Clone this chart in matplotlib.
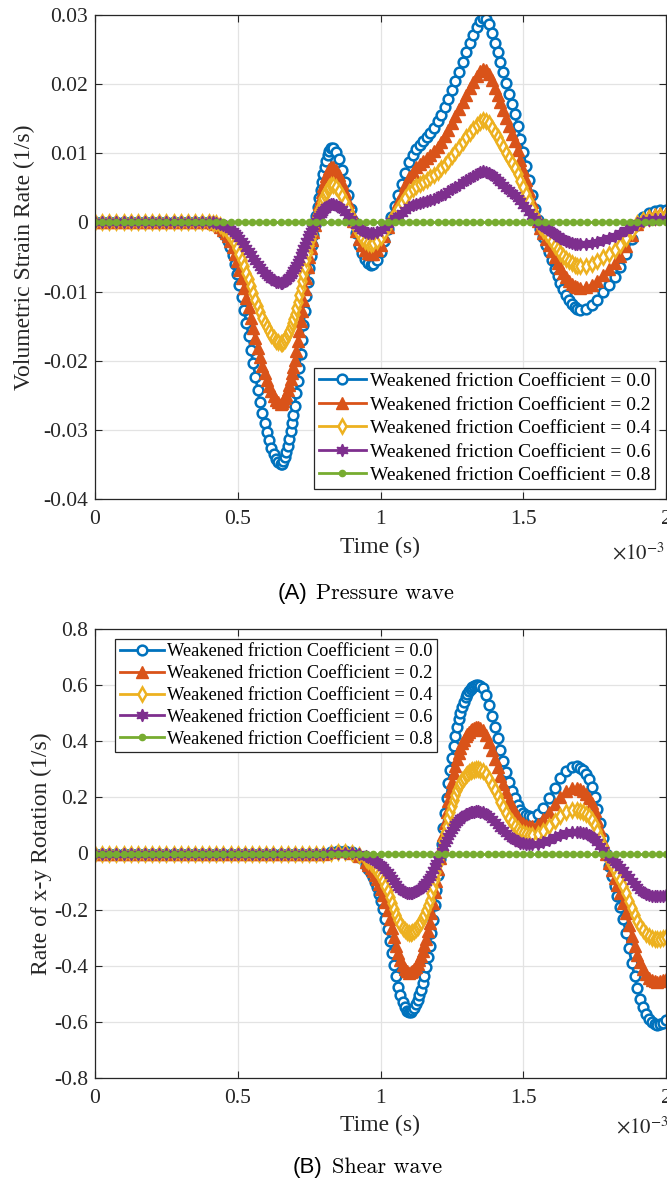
import numpy as np
import matplotlib
matplotlib.use("Agg")
import matplotlib.pyplot as plt
from matplotlib.ticker import FuncFormatter

plt.rcParams['font.family'] = ['Liberation Serif', 'DejaVu Serif']
plt.rcParams['axes.unicode_minus'] = False
plt.rcParams['mathtext.fontset'] = 'stix'

coefficients = ['0.0', '0.2', '0.4', '0.6', '0.8']
legend_labels = ['Weakened friction Coefficient = ' + c for c in coefficients]

# ---------------------------------------------------------------------------
# (A) Pressure wave: volumetric strain rate, sampled at uneven instants
#     (time in 1e-3 s, strain rate in 1e-3 1/s)
# ---------------------------------------------------------------------------
t_vol_ms = np.concatenate([
    np.linspace(0.0, 0.4, 17), np.linspace(0.4125, 0.45, 4),
    np.linspace(0.458, 0.650, 25), np.linspace(0.655, 0.825, 35),
    np.linspace(0.835, 0.975, 15), np.linspace(0.9875, 1.35, 30),
    np.linspace(1.36, 1.70, 35), np.linspace(1.72, 2.0, 15)])

vol_00 = [0, 0, 0, 0, 0, 0, 0, 0, 0, 0, 0, 0, 0, 0, 0, 0, 0,
          -0.05, -0.3, -0.8, -1.5,
          -2.0, -2.7, -3.6, -4.7, -6.0, -7.5, -9.1, -10.8, -12.6, -14.5, -16.4, -18.4, -20.4,
          -22.3, -24.2, -26.0, -27.6, -29.0, -30.3, -31.5, -32.6, -33.5, -34.2, -34.7, -35.0,
          -34.9, -34.5, -33.9, -33.2, -32.3, -31.3, -30.2, -29.0, -27.8, -26.5, -24.7, -22.9,
          -21.0, -19.0, -17.0, -14.9, -12.8, -10.7, -8.6, -6.6, -4.9, -3.3, -1.8, -0.4, 1.0,
          2.3, 3.5, 4.7, 5.9, 7.0, 8.0, 8.9, 9.7, 10.3, 10.7,
          10.7, 10.2, 9.2, 7.6, 5.8, 3.9, 2.0, 0.2, -1.6, -3.2, -4.4, -5.3, -5.9, -6.1, -6.0,
          -5.4, -4.3, -2.7, -0.9, 0.8, 2.4, 3.9, 5.5, 7.2, 8.7, 9.8, 10.6, 11.2, 11.8, 12.4,
          13.0, 13.7, 14.6, 15.6, 16.7, 17.9, 19.2, 20.5, 21.8, 23.2, 24.6, 25.9, 27.1, 28.2, 29.1,
          29.6, 29.4, 28.7, 27.4, 26.0, 24.6, 23.2, 21.7, 20.2, 18.6, 17.1, 15.7, 13.9, 12.1,
          10.2, 8.2, 6.1, 4.0, 2.0, 0.3, -1.0, -2.1, -3.2, -4.3, -5.5, -6.7, -7.8, -8.8, -9.7,
          -10.5, -11.2, -11.8, -12.2, -12.5, -12.6,
          -12.5, -12.0, -11.2, -10.1, -9.0, -7.9, -6.4, -4.6, -2.4, -0.3, 0.8, 1.4, 1.7, 1.8, 1.8]
vol_02 = [0, 0, 0, 0, 0, 0, 0, 0, 0, 0, 0, 0, 0, 0, 0, 0, 0,
          -0.04, -0.23, -0.6, -1.13,
          -1.5, -2.03, -2.7, -3.53, -4.5, -5.63, -6.83, -8.1, -9.45, -10.88, -12.3, -13.8, -15.3,
          -16.73, -18.15, -19.5, -20.7, -21.75, -22.73, -23.63, -24.45, -25.13, -25.65, -26.03, -26.25,
          -26.18, -25.88, -25.43, -24.9, -24.23, -23.48, -22.65, -21.75, -20.85, -19.88, -18.53,
          -17.18, -15.75, -14.25, -12.75, -11.18, -9.6, -8.03, -6.45, -4.95, -3.68, -2.48, -1.35,
          -0.3, 0.75, 1.73, 2.63, 3.53, 4.43, 5.25, 6.0, 6.68, 7.28, 7.73, 8.03,
          8.03, 7.65, 6.9, 5.7, 4.35, 2.93, 1.5, 0.15, -1.2, -2.4, -3.3, -3.98, -4.43, -4.58, -4.5,
          -4.05, -3.23, -2.03, -0.68, 0.6, 1.8, 2.93, 4.13, 5.4, 6.53, 7.35, 7.95, 8.4, 8.85, 9.3,
          9.75, 10.28, 10.95, 11.7, 12.53, 13.43, 14.4, 15.38, 16.35, 17.4, 18.45, 19.43, 20.33,
          21.15, 21.83,
          22.2, 22.05, 21.53, 20.55, 19.5, 18.45, 17.4, 16.28, 15.15, 13.95, 12.83, 11.78, 10.43,
          9.08, 7.65, 6.15, 4.58, 3.0, 1.5, 0.23, -0.75, -1.58, -2.4, -3.23, -4.13, -5.03, -5.85,
          -6.6, -7.28, -7.88, -8.4, -8.85, -9.15, -9.38, -9.45,
          -9.38, -9.0, -8.4, -7.58, -6.75, -5.93, -4.8, -3.45, -1.8, -0.23, 0.6, 1.05, 1.28, 1.35, 1.35]
vol_04 = [0, 0, 0, 0, 0, 0, 0, 0, 0, 0, 0, 0, 0, 0, 0, 0, 0,
          -0.03, -0.15, -0.4, -0.75,
          -1.0, -1.35, -1.8, -2.35, -3.0, -3.75, -4.55, -5.4, -6.3, -7.25, -8.2, -9.2, -10.2,
          -11.15, -12.1, -13.0, -13.8, -14.5, -15.15, -15.75, -16.3, -16.75, -17.1, -17.35, -17.5,
          -17.45, -17.25, -16.95, -16.6, -16.15, -15.65, -15.1, -14.5, -13.9, -13.25, -12.35,
          -11.45, -10.5, -9.5, -8.5, -7.45, -6.4, -5.35, -4.3, -3.3, -2.45, -1.65, -0.9, -0.2,
          0.5, 1.15, 1.75, 2.35, 2.95, 3.5, 4.0, 4.45, 4.85, 5.15, 5.35,
          5.35, 5.1, 4.6, 3.8, 2.9, 1.95, 1.0, 0.1, -0.8, -1.6, -2.2, -2.65, -2.95, -3.05, -3.0,
          -2.7, -2.15, -1.35, -0.45, 0.4, 1.2, 1.95, 2.75, 3.6, 4.35, 4.9, 5.3, 5.6, 5.9, 6.2,
          6.5, 6.85, 7.3, 7.8, 8.35, 8.95, 9.6, 10.25, 10.9, 11.6, 12.3, 12.95, 13.55, 14.1, 14.55,
          14.8, 14.7, 14.35, 13.7, 13.0, 12.3, 11.6, 10.85, 10.1, 9.3, 8.55, 7.85, 6.95, 6.05,
          5.1, 4.1, 3.05, 2.0, 1.0, 0.15, -0.5, -1.05, -1.6, -2.15, -2.75, -3.35, -3.9, -4.4,
          -4.85, -5.25, -5.6, -5.9, -6.1, -6.25, -6.3,
          -6.25, -6.0, -5.6, -5.05, -4.5, -3.95, -3.2, -2.3, -1.2, -0.15, 0.4, 0.7, 0.85, 0.9, 0.9]
vol_06 = [0, 0, 0, 0, 0, 0, 0, 0, 0, 0, 0, 0, 0, 0, 0, 0, 0,
          -0.01, -0.08, -0.2, -0.38,
          -0.5, -0.68, -0.9, -1.18, -1.5, -1.88, -2.28, -2.7, -3.15, -3.63, -4.1, -4.6, -5.1,
          -5.58, -6.05, -6.5, -6.9, -7.25, -7.58, -7.88, -8.15, -8.38, -8.55, -8.68, -8.75,
          -8.73, -8.63, -8.48, -8.3, -8.08, -7.83, -7.55, -7.25, -6.95, -6.63, -6.18, -5.73,
          -5.25, -4.75, -4.25, -3.73, -3.2, -2.68, -2.15, -1.65, -1.23, -0.83, -0.45, -0.1,
          0.25, 0.58, 0.88, 1.18, 1.48, 1.75, 2.0, 2.23, 2.43, 2.58, 2.68,
          2.68, 2.55, 2.3, 1.9, 1.45, 0.98, 0.5, 0.05, -0.4, -0.8, -1.1, -1.33, -1.48, -1.53, -1.5,
          -1.35, -1.08, -0.68, -0.23, 0.2, 0.6, 0.98, 1.38, 1.8, 2.18, 2.45, 2.65, 2.8, 2.95, 3.1,
          3.25, 3.43, 3.65, 3.9, 4.18, 4.48, 4.8, 5.13, 5.45, 5.8, 6.15, 6.48, 6.78, 7.05, 7.28,
          7.4, 7.35, 7.18, 6.85, 6.5, 6.15, 5.8, 5.43, 5.05, 4.65, 4.28, 3.93, 3.48, 3.03,
          2.55, 2.05, 1.53, 1.0, 0.5, 0.08, -0.25, -0.53, -0.8, -1.08, -1.38, -1.68, -1.95, -2.2,
          -2.43, -2.63, -2.8, -2.95, -3.05, -3.13, -3.15,
          -3.13, -3.0, -2.8, -2.53, -2.25, -1.98, -1.6, -1.15, -0.6, -0.08, 0.2, 0.35, 0.43, 0.45, 0.45]

# the 0.8 case stays at rest; it is logged on a regular 0.025e-3 s grid
t_flat_ms = np.linspace(0.0, 2.0, 81)
vol_08 = [0, 0, 0, 0, 0, 0, 0, 0, 0, 0, 0, 0, 0, 0, 0, 0, 0, 0, 0, 0,
          0, 0, 0, 0, 0, 0, 0, 0, 0, 0, 0, 0, 0, 0, 0, 0, 0, 0, 0, 0,
          0, 0, 0, 0, 0, 0, 0, 0, 0, 0, 0, 0, 0, 0, 0, 0, 0, 0, 0, 0,
          0, 0, 0, 0, 0, 0, 0, 0, 0, 0, 0, 0, 0, 0, 0, 0, 0, 0, 0, 0, 0]

# ---------------------------------------------------------------------------
# (B) Shear wave: rate of x-y rotation (1/s), time in 1e-3 s
# ---------------------------------------------------------------------------
t_rot_ms = np.concatenate([
    np.linspace(0.0, 0.8, 33), np.linspace(0.825, 0.95, 6),
    np.linspace(0.9575, 1.1, 20), np.linspace(1.106, 1.34, 40),
    np.linspace(1.35, 1.53, 19), np.linspace(1.55, 1.69, 8),
    np.linspace(1.70, 1.97, 28), np.linspace(1.98, 2.0, 3)])

rot_00 = [0, 0, 0, 0, 0, 0, 0, 0, 0, 0, 0, 0, 0, 0, 0, 0, 0, 0, 0, 0,
          0, 0, 0, 0, 0, 0, 0, 0, 0, 0, 0, 0, 0,
          0.006, 0.010, 0.010, 0.004, -0.012, -0.042,
          -0.054, -0.068, -0.084, -0.101, -0.120, -0.143, -0.169, -0.198, -0.232, -0.270,
          -0.312, -0.355, -0.398, -0.438, -0.474, -0.505, -0.530, -0.548, -0.560, -0.566,
          -0.564, -0.559, -0.550, -0.537, -0.523, -0.506, -0.486, -0.463, -0.436, -0.405,
          -0.370, -0.330, -0.285, -0.236, -0.184, -0.130, -0.075, -0.020, 0.035, 0.090,
          0.145, 0.198, 0.250, 0.298, 0.342, 0.382, 0.418, 0.450, 0.478, 0.502,
          0.523, 0.541, 0.556, 0.568, 0.578, 0.586, 0.592, 0.597, 0.600, 0.601,
          0.598, 0.588, 0.565, 0.530, 0.490, 0.450, 0.410, 0.370, 0.330, 0.292, 0.256, 0.224,
          0.196, 0.173, 0.156, 0.144, 0.136, 0.132, 0.131,
          0.139, 0.162, 0.196, 0.235, 0.270, 0.295, 0.309, 0.311,
          0.306, 0.298, 0.285, 0.265, 0.238, 0.203, 0.160, 0.110, 0.055, -0.003, -0.045, -0.080,
          -0.115, -0.150, -0.190, -0.235, -0.285, -0.338, -0.390, -0.438, -0.480, -0.517, -0.548,
          -0.572, -0.590, -0.602, -0.608, -0.610,
          -0.608, -0.603, -0.595]
rot_02 = [0, 0, 0, 0, 0, 0, 0, 0, 0, 0, 0, 0, 0, 0, 0, 0, 0, 0, 0, 0,
          0, 0, 0, 0, 0, 0, 0, 0, 0, 0, 0, 0, 0,
          0.0045, 0.0075, 0.0075, 0.003, -0.009, -0.0315,
          -0.0405, -0.051, -0.063, -0.0758, -0.09, -0.1073, -0.1268, -0.1485, -0.174, -0.2025,
          -0.234, -0.2663, -0.2985, -0.3285, -0.3555, -0.3788, -0.3975, -0.411, -0.42, -0.4245,
          -0.423, -0.4193, -0.4125, -0.4028, -0.3923, -0.3795, -0.3645, -0.3473, -0.327, -0.3038,
          -0.2775, -0.2475, -0.2138, -0.177, -0.138, -0.0975, -0.0563, -0.015, 0.0263, 0.0675,
          0.1088, 0.1485, 0.1875, 0.2235, 0.2565, 0.2865, 0.3135, 0.3375, 0.3585, 0.3765,
          0.3923, 0.4058, 0.417, 0.426, 0.4335, 0.4395, 0.444, 0.4478, 0.45, 0.4508,
          0.4485, 0.441, 0.4238, 0.3975, 0.3675, 0.3375, 0.3075, 0.2775, 0.2475, 0.219, 0.192,
          0.168, 0.147, 0.1298, 0.117, 0.108, 0.102, 0.099, 0.0983,
          0.1043, 0.1215, 0.147, 0.1763, 0.2025, 0.2213, 0.2318, 0.2333,
          0.2295, 0.2235, 0.2138, 0.1988, 0.1785, 0.1523, 0.12, 0.0825, 0.0413, -0.0023, -0.0338,
          -0.06, -0.0863, -0.1125, -0.1425, -0.1763, -0.2138, -0.2535, -0.2925, -0.3285, -0.36,
          -0.3878, -0.411, -0.429, -0.4425, -0.4515, -0.456, -0.4575,
          -0.456, -0.4523, -0.4463]
rot_04 = [0, 0, 0, 0, 0, 0, 0, 0, 0, 0, 0, 0, 0, 0, 0, 0, 0, 0, 0, 0,
          0, 0, 0, 0, 0, 0, 0, 0, 0, 0, 0, 0, 0,
          0.003, 0.005, 0.005, 0.002, -0.006, -0.021,
          -0.027, -0.034, -0.042, -0.0505, -0.06, -0.0715, -0.0845, -0.099, -0.116, -0.135,
          -0.156, -0.1775, -0.199, -0.219, -0.237, -0.2525, -0.265, -0.274, -0.28, -0.283,
          -0.282, -0.2795, -0.275, -0.2685, -0.2615, -0.253, -0.243, -0.2315, -0.218, -0.2025,
          -0.185, -0.165, -0.1425, -0.118, -0.092, -0.065, -0.0375, -0.01, 0.0175, 0.045,
          0.0725, 0.099, 0.125, 0.149, 0.171, 0.191, 0.209, 0.225, 0.239, 0.251,
          0.2615, 0.2705, 0.278, 0.284, 0.289, 0.293, 0.296, 0.2985, 0.30, 0.3005,
          0.299, 0.294, 0.2825, 0.265, 0.245, 0.225, 0.205, 0.185, 0.165, 0.146, 0.128,
          0.112, 0.098, 0.0865, 0.078, 0.072, 0.068, 0.066, 0.0655,
          0.0695, 0.081, 0.098, 0.1175, 0.135, 0.1475, 0.1545, 0.1555,
          0.153, 0.149, 0.1425, 0.1325, 0.119, 0.1015, 0.08, 0.055, 0.0275, -0.0015, -0.0225,
          -0.04, -0.0575, -0.075, -0.095, -0.1175, -0.1425, -0.169, -0.195, -0.219, -0.24,
          -0.2585, -0.274, -0.286, -0.295, -0.301, -0.304, -0.305,
          -0.304, -0.3015, -0.2975]
rot_06 = [0, 0, 0, 0, 0, 0, 0, 0, 0, 0, 0, 0, 0, 0, 0, 0, 0, 0, 0, 0,
          0, 0, 0, 0, 0, 0, 0, 0, 0, 0, 0, 0, 0,
          0.0015, 0.0025, 0.0025, 0.001, -0.003, -0.0105,
          -0.0135, -0.017, -0.021, -0.0253, -0.03, -0.0358, -0.0423, -0.0495, -0.058, -0.0675,
          -0.078, -0.0888, -0.0995, -0.1095, -0.1185, -0.1263, -0.1325, -0.137, -0.14, -0.1415,
          -0.141, -0.1398, -0.1375, -0.1343, -0.1308, -0.1265, -0.1215, -0.1158, -0.109, -0.1013,
          -0.0925, -0.0825, -0.0713, -0.059, -0.046, -0.0325, -0.0188, -0.005, 0.0088, 0.0225,
          0.0363, 0.0495, 0.0625, 0.0745, 0.0855, 0.0955, 0.1045, 0.1125, 0.1195, 0.1255,
          0.1308, 0.1353, 0.139, 0.142, 0.1445, 0.1465, 0.148, 0.1493, 0.15, 0.1503,
          0.1495, 0.147, 0.1413, 0.1325, 0.1225, 0.1125, 0.1025, 0.0925, 0.0825, 0.073, 0.064,
          0.056, 0.049, 0.0433, 0.039, 0.036, 0.034, 0.033, 0.0328,
          0.0348, 0.0405, 0.049, 0.0588, 0.0675, 0.0738, 0.0773, 0.0778,
          0.0765, 0.0745, 0.0713, 0.0663, 0.0595, 0.0508, 0.04, 0.0275, 0.0138, -0.0008, -0.0113,
          -0.02, -0.0288, -0.0375, -0.0475, -0.0588, -0.0713, -0.0845, -0.0975, -0.1095, -0.12,
          -0.1293, -0.137, -0.143, -0.1475, -0.1505, -0.152, -0.1525,
          -0.152, -0.1508, -0.1488]
rot_08 = [0, 0, 0, 0, 0, 0, 0, 0, 0, 0, 0, 0, 0, 0, 0, 0, 0, 0, 0, 0,
          0, 0, 0, 0, 0, 0, 0, 0, 0, 0, 0, 0, 0, 0, 0, 0, 0, 0, 0, 0,
          0, 0, 0, 0, 0, 0, 0, 0, 0, 0, 0, 0, 0, 0, 0, 0, 0, 0, 0, 0,
          0, 0, 0, 0, 0, 0, 0, 0, 0, 0, 0, 0, 0, 0, 0, 0, 0, 0, 0, 0, 0]

time_ticks = [0, 0.5e-3, 1.0e-3, 1.5e-3, 2.0e-3]
vol_ticks = [-0.04, -0.03, -0.02, -0.01, 0, 0.01, 0.02, 0.03]
rot_ticks = [-0.8, -0.6, -0.4, -0.2, 0, 0.2, 0.4, 0.6, 0.8]

colors = ['#0072BD', '#D95319', '#EDB120', '#7E2F8E', '#77AC30']
styles = [
    dict(marker='o', ms=7, mew=1.8, mfc='white'),
    dict(marker='^', ms=8, mew=1.0),
    dict(marker='d', ms=7.5, mew=1.8, mfc='white'),
    dict(marker=(6, 1, 0), ms=9, mew=1.0),
    dict(marker='o', ms=4.5, mew=1.0),
]

W, H = 667, 1182
fig = plt.figure(figsize=(W / 100, H / 100), dpi=100)


def px_axes(left, top, right, bottom):
    return fig.add_axes([left / W, 1 - bottom / H, (right - left) / W, (bottom - top) / H])


def style_axes(ax, yticks, ylim):
    ax.set_xlim(0, 2.0e-3)
    ax.set_ylim(*ylim)
    ax.set_xticks(time_ticks)
    ax.set_yticks(yticks)
    ax.xaxis.set_major_formatter(FuncFormatter(lambda v, _: f'{v * 1e3:g}'))
    ax.yaxis.set_major_formatter(FuncFormatter(lambda v, _: f'{round(v, 4):g}'))
    ax.grid(True, color='#e3e3e3', linewidth=0.9)
    ax.set_axisbelow(True)
    ax.tick_params(direction='in', top=True, right=True, length=5, width=0.8,
                   labelsize=15.5, colors='#262626')
    ax.tick_params(axis='x', pad=8)
    ax.tick_params(axis='y', pad=5)
    for s in ax.spines.values():
        s.set_color('#262626')
        s.set_linewidth(0.9)


def draw_series(ax, times, series):
    for t, y, c, st, lab in zip(times, series, colors, styles, legend_labels):
        ax.plot(t, y, color=c, lw=2, mec=c, mfc=st.get('mfc', c),
                marker=st['marker'], ms=st['ms'], mew=st['mew'], label=lab)


# (A) pressure wave
ax1 = px_axes(95, 15, 666, 499)
t_vol = t_vol_ms * 1e-3
vol_series = [np.asarray(v) * 1e-3 for v in (vol_00, vol_02, vol_04, vol_06, vol_08)]
draw_series(ax1, [t_vol, t_vol, t_vol, t_vol, t_flat_ms * 1e-3], vol_series)
style_axes(ax1, vol_ticks, (-0.04, 0.03))
ax1.set_xlabel('Time (s)', fontsize=17, color='#262626')
ax1.set_ylabel('Volumetric Strain Rate (1/s)', fontsize=17, color='#262626')
ax1.xaxis.set_label_coords(0.5, -0.078)
ax1.yaxis.set_label_coords(-0.105, 0.5)
leg1 = ax1.legend(loc='lower right', bbox_to_anchor=(0.981, 0.021), borderaxespad=0,
                  fontsize=14, handlelength=2.4, handletextpad=0.2, labelspacing=0.3,
                  borderpad=0.25, fancybox=False, framealpha=1, edgecolor='#262626')
leg1.get_frame().set_linewidth(0.9)

# (B) shear wave
ax2 = px_axes(95, 629, 666, 1078)
t_rot = t_rot_ms * 1e-3
draw_series(ax2, [t_rot, t_rot, t_rot, t_rot, t_flat_ms * 1e-3],
            [rot_00, rot_02, rot_04, rot_06, rot_08])
style_axes(ax2, rot_ticks, (-0.8, 0.8))
ax2.set_xlabel('Time (s)', fontsize=17, color='#262626')
ax2.set_ylabel('Rate of x-y Rotation (1/s)', fontsize=17, color='#262626')
ax2.xaxis.set_label_coords(0.5, -0.082)
ax2.yaxis.set_label_coords(-0.075, 0.5)
leg2 = ax2.legend(loc='upper left', bbox_to_anchor=(0.035, 0.978), borderaxespad=0,
                  fontsize=13.2, handlelength=2.4, handletextpad=0.2, labelspacing=0.26,
                  borderpad=0.25, fancybox=False, framealpha=1, edgecolor='#262626')
leg2.get_frame().set_linewidth(0.9)

# exponent labels for the time axes
fig.text(612 / W, 1 - 543 / H, r'$\times10^{-3}$', fontsize=15, color='#262626',
         ha='left', va='top')
fig.text(616 / W, 1 - 1117 / H, r'$\times10^{-3}$', fontsize=15, color='#262626',
         ha='left', va='top')

# sub-figure captions
fig.text(278 / W, 1 - 593 / H, '(A)', family='Liberation Sans', fontsize=16,
         ha='left', va='center')
fig.text(316 / W, 1 - 593 / H, 'Pressure wave', family='cmr10', fontsize=16,
         ha='left', va='center')
fig.text(293 / W, 1 - 1167 / H, '(B)', family='Liberation Sans', fontsize=16,
         ha='left', va='center')
fig.text(332 / W, 1 - 1167 / H, 'Shear wave', family='cmr10', fontsize=16,
         ha='left', va='center')

fig.savefig('out.png', dpi=100, facecolor='white')
